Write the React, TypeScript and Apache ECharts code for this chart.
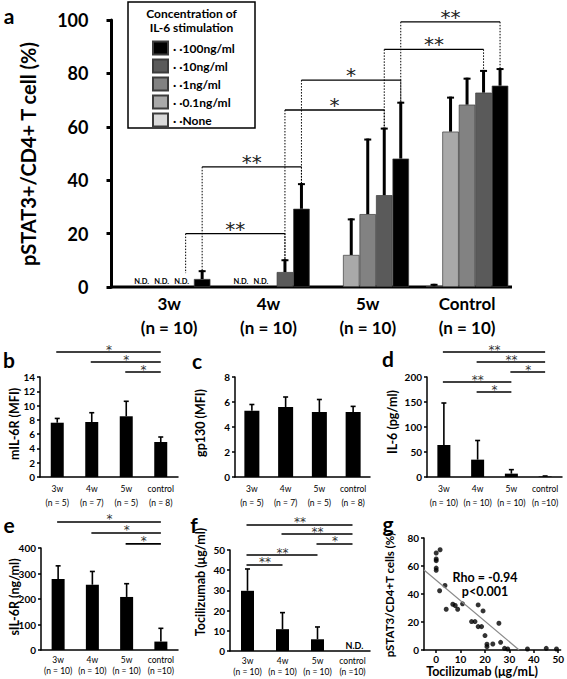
import React, { useEffect, useRef } from "react";
import * as echarts from "echarts";

const FONT = "Lato, 'Open Sans', sans-serif";
const STAR_FONT = "'DejaVu Sans', sans-serif";

// ---------- Panel a ----------
const A_GROUPS = ["3w", "4w", "5w", "Control"];
const A_GROUP_N = ["(n = 10)", "(n = 10)", "(n = 10)", "(n = 10)"];
const CONC_NAMES = ["· ·None", "· ·0.1ng/ml", "· ·1ng/ml", "· ·10ng/ml", "· ·100ng/ml"];
const CONC_COLORS = ["#dadada", "#a9a9a9", "#828282", "#5a5a5a", "#000000"];
const A_NONE = [null, null, null, 0.3];
const A_01 = [null, null, 12, 58.2];
const A_1 = [null, null, 27.3, 68.3];
const A_10 = [null, 5.6, 34.4, 72.8];
const A_100 = [3, 29.3, 48.1, 75.4];
const A_NONE_ERR = [null, null, null, 1.2];
const A_01_ERR = [null, null, 25.7, 71.3];
const A_1_ERR = [null, null, 55.6, 78.4];
const A_10_ERR = [null, 10.4, 59.7, 81.3];
const A_100_ERR = [6.3, 38.9, 69.4, 82];
// [group, concentration] pairs reported as N.D.
const A_ND = [[0, 1], [0, 2], [0, 3], [1, 1], [1, 2]];
// [group1, conc1, group2, conc2, level, drop1, drop2, label]
const A_BRACKETS: [number, number, number, number, number, number, number, string][] = [
  [0, 3, 1, 3, 20, 5.2, 10.4, "**"],
  [0, 4, 1, 4, 45, 6.3, 38.9, "**"],
  [1, 3, 2, 3, 66.3, 10.4, 59.7, "*"],
  [1, 4, 2, 4, 77.5, 38.9, 69.4, "*"],
  [2, 3, 3, 3, 89, 59.7, 81.3, "**"],
  [2, 4, 3, 4, 99.3, 69.4, 82, "**"],
];

// ---------- Panels b-f ----------
const SMALL_CATS = ["3w", "4w", "5w", "control"];
const BC_N = ["(n = 5)", "(n = 7)", "(n = 5)", "(n = 8)"];
const DEF_N = ["(n = 10)", "(n = 10)", "(n = 10)", "(n =10)"];
const B_VAL = [7.6, 7.7, 8.5, 4.9];
const B_ERR = [8.2, 9.0, 10.6, 5.6];
const C_VAL = [5.3, 5.6, 5.2, 5.2];
const C_ERR = [5.8, 6.4, 6.2, 5.65];
const D_VAL = [64, 34.7, 6.7, 1];
const D_ERR = [148, 73, 14.7, 2];
const E_VAL = [278, 256, 208, 33];
const E_ERR = [330, 308, 260, 85];
const F_VAL = [29.8, 10.8, 5.8, null];
const F_ERR = [40.6, 19.0, 11.9, null];
const F_ND = [3];
// [cat1, cat2, level, label]
const B_BRACKETS: [number, number, number, string][] = [[0, 3, 17.5, "*"], [1, 3, 16.1, "*"], [2, 3, 14.7, "*"]];
const D_BRACKETS: [number, number, number, string][] = [
  [0, 3, 250, "**"], [1, 3, 230, "**"], [2, 3, 210, "*"], [0, 2, 190, "**"], [1, 2, 170, "*"],
];
const E_BRACKETS: [number, number, number, string][] = [[0, 3, 502, "*"], [1, 3, 459, "*"], [2, 3, 416, "*"]];
const F_BRACKETS: [number, number, number, string][] = [
  [0, 3, 62.4, "**"], [1, 3, 57.9, "**"], [2, 3, 53, "*"], [0, 2, 47.5, "**"], [0, 1, 42.6, "**"],
];

// ---------- Panel g ----------
const G_TOCI = [0, 0, 0, 0, 0, 1.6, 1.4, 3.6, 4.1, 6.8, 7.8, 8.8, 10.8, 14.5, 15.9, 17.2, 17.2, 18.6, 19.2, 20, 20.8, 20.8, 23.2, 25.7, 26.4, 28, 29.3, 37.4, 45.1, 49.3];
const G_PSTAT = [69.3, 65, 63.8, 58.5, 56.9, 71.6, 42.3, 46.1, 29.1, 32.7, 31.8, 29.1, 33, 20.3, 20.3, 32.2, 16.7, 16.7, 27.9, 10.3, 4.1, 2.4, 4.3, 19.1, 5.5, 1.2, 0.7, 0.7, 1.2, 0.7];
const G_FIT_X = [-5, 34];
const G_FIT_Y = [57.2, 0];
const G_XTICKS = [0, 10, 20, 30, 40, 50];

const SLOT = 16.5;

const GRIDS = [
  { left: 119.5, top: 20, width: 397.2, height: 267 }, // a
  { left: 40, top: 377, width: 138, height: 100 }, // b
  { left: 235, top: 377, width: 135, height: 100 }, // c
  { left: 427, top: 377, width: 135, height: 100 }, // d
  { left: 41, top: 548, width: 137, height: 102 }, // e
  { left: 230, top: 550, width: 140, height: 101 }, // f
  { left: 424, top: 538, width: 139, height: 112 }, // g
];

const nz = (v: number | null) => (v === null ? "-" : v);

function smallErr(lw: number, cap: number) {
  return (params: any, api: any) => {
    const c = api.value(0), v = api.value(1), e = api.value(2);
    const p0 = api.coord([c, v]);
    const p1 = api.coord([c, e]);
    return {
      type: "group",
      children: [
        { type: "line", shape: { x1: p0[0], y1: p0[1], x2: p0[0], y2: p1[1] }, style: { stroke: "#000", lineWidth: lw } },
        { type: "line", shape: { x1: p0[0] - cap, y1: p1[1], x2: p0[0] + cap, y2: p1[1] }, style: { stroke: "#000", lineWidth: lw } },
      ],
    };
  };
}

function buildOption() {
  const xAxis: any[] = [];
  const yAxis: any[] = [];
  const series: any[] = [];

  // panel a axes
  xAxis.push({
    gridIndex: 0, type: "category", data: A_GROUPS,
    axisLine: { show: false }, axisTick: { show: false },
    axisLabel: {
      interval: 0, margin: 4, color: "#000", fontFamily: FONT, fontWeight: "bold", fontSize: 17, lineHeight: 24,
      formatter: (v: string, i: number) => `${v}\n${A_GROUP_N[i]}`,
    },
  });
  yAxis.push({
    gridIndex: 0, type: "value", min: 0, max: 100, interval: 20, offset: 8,
    axisLine: { show: true, onZero: false, lineStyle: { color: "#000", width: 3 } },
    axisTick: { show: true, length: 5, lineStyle: { color: "#000", width: 3 } },
    axisLabel: { margin: 23, color: "#000", fontFamily: FONT, fontWeight: "bold", fontSize: 18 },
    splitLine: { show: false },
  });
  const aVals = [A_NONE, A_01, A_1, A_10, A_100];
  const aErrs = [A_NONE_ERR, A_01_ERR, A_1_ERR, A_10_ERR, A_100_ERR];
  aVals.forEach((vals, k) => {
    series.push({
      type: "bar", name: CONC_NAMES[k], xAxisIndex: 0, yAxisIndex: 0,
      data: vals.map(nz), barWidth: SLOT, barGap: "0%",
      itemStyle: { color: CONC_COLORS[k], borderColor: "#3c3c3c", borderWidth: 0.7 },
    });
  });
  const aErrData: number[][] = [];
  aErrs.forEach((errs, k) => errs.forEach((e, g) => {
    if (e !== null) aErrData.push([g, k, e, (aVals[k][g] as number) ?? 0]);
  }));
  series.push({
    type: "custom", xAxisIndex: 0, yAxisIndex: 0, data: aErrData, encode: { x: 0, y: 2 }, z: 3, silent: true,
    renderItem: (params: any, api: any) => {
      const g = api.value(0), k = api.value(1), e = api.value(2), v = api.value(3);
      const p0 = api.coord([g, v]);
      const p1 = api.coord([g, e]);
      const x = p0[0] + (k - 2) * SLOT;
      return {
        type: "group",
        children: [
          { type: "line", shape: { x1: x, y1: p0[1], x2: x, y2: p1[1] }, style: { stroke: "#000", lineWidth: 3 } },
          { type: "line", shape: { x1: x - 3.5, y1: p1[1] + 1, x2: x + 3.5, y2: p1[1] + 1 }, style: { stroke: "#000", lineWidth: 2 } },
        ],
      };
    },
  });
  series.push({
    type: "custom", xAxisIndex: 0, yAxisIndex: 0, data: A_ND, encode: { x: 0 }, z: 3, silent: true,
    renderItem: (params: any, api: any) => {
      const g = api.value(0), k = api.value(1);
      const p = api.coord([g, 0]);
      return {
        type: "text",
        style: {
          x: p[0] + (k - 2) * SLOT - 4 + (k - 3) * 3.5, y: p[1] - 6, text: "N.D.", fill: "#000",
          font: `bold 7.5px ${FONT}`, align: "center", verticalAlign: "middle",
        },
      };
    },
  });

  // small bar panels
  const smallPanels = [
    { gi: 1, n: BC_N, vals: B_VAL, errs: B_ERR, max: 14, step: 2, bw: 13, lh: 14, mg: 5 },
    { gi: 2, n: BC_N, vals: C_VAL, errs: C_ERR, max: 8, step: 2, bw: 15, lh: 14, mg: 5 },
    { gi: 3, n: DEF_N, vals: D_VAL, errs: D_ERR, max: 200, step: 50, bw: 13, lh: 14, mg: 5 },
    { gi: 4, n: DEF_N, vals: E_VAL, errs: E_ERR, max: 400, step: 100, bw: 13, lh: 11, mg: 4 },
    { gi: 5, n: DEF_N, vals: F_VAL, errs: F_ERR, max: 50, step: 10, bw: 13, lh: 11, mg: 4 },
  ];
  smallPanels.forEach((p) => {
    const ax = xAxis.length;
    xAxis.push({
      gridIndex: p.gi, type: "category", data: SMALL_CATS,
      axisLine: { show: true, onZero: false, lineStyle: { color: "#000", width: 1.5 } }, axisTick: { show: false },
      axisLabel: {
        interval: 0, margin: p.mg, color: "#000", fontFamily: FONT, fontSize: 8.5, lineHeight: p.lh,
        formatter: (v: string, i: number) => `${v}\n${p.n[i]}`,
      },
    });
    yAxis.push({
      gridIndex: p.gi, type: "value", min: 0, max: p.max, interval: p.step,
      axisLine: { show: true, onZero: false, lineStyle: { color: "#000", width: 1.5 } },
      axisTick: { show: true, length: 3, lineStyle: { color: "#000", width: 1.5 } },
      axisLabel: { margin: 5, color: "#000", fontFamily: FONT, fontWeight: "bold", fontSize: 10 },
      splitLine: { show: false },
    });
    series.push({
      type: "bar", xAxisIndex: ax, yAxisIndex: ax, data: p.vals.map(nz), barWidth: p.bw,
      itemStyle: { color: "#000" },
    });
    const ed: number[][] = [];
    p.errs.forEach((e, i) => { if (e !== null) ed.push([i, p.vals[i] as number, e]); });
    series.push({
      type: "custom", xAxisIndex: ax, yAxisIndex: ax, data: ed, encode: { x: 0, y: 2 }, z: 3, silent: true,
      renderItem: smallErr(1.6, 2.5),
    });
  });
  // f N.D.
  series.push({
    type: "custom", xAxisIndex: 5, yAxisIndex: 5, data: F_ND.map((c) => [c, 0]), encode: { x: 0, y: 1 }, silent: true,
    renderItem: (params: any, api: any) => {
      const p = api.coord([api.value(0), 0]);
      return {
        type: "text",
        style: { x: p[0] + 2, y: p[1] - 6, text: "N.D.", fill: "#000", font: `bold 9px ${FONT}`, align: "center", verticalAlign: "middle" },
      };
    },
  });

  // panel g
  xAxis.push({
    gridIndex: 6, type: "value", min: -5, max: 51,
    axisLine: { show: true, onZero: false, lineStyle: { color: "#000", width: 1.5 } },
    axisTick: { show: true, length: 3, customValues: G_XTICKS, lineStyle: { color: "#000", width: 1.5 } },
    axisLabel: { customValues: G_XTICKS, margin: 4, color: "#000", fontFamily: FONT, fontWeight: "bold", fontSize: 10 },
    splitLine: { show: false },
  });
  yAxis.push({
    gridIndex: 6, type: "value", min: 0, max: 80, interval: 20,
    axisLine: { show: true, onZero: false, lineStyle: { color: "#000", width: 1.5 } },
    axisTick: { show: true, length: 3, lineStyle: { color: "#000", width: 1.5 } },
    axisLabel: { margin: 5, color: "#000", fontFamily: FONT, fontWeight: "bold", fontSize: 10 },
    splitLine: { show: false },
  });
  series.push({
    type: "line", xAxisIndex: 6, yAxisIndex: 6, data: G_FIT_X.map((x, i) => [x, G_FIT_Y[i]]),
    symbol: "none", lineStyle: { color: "#8a8a8a", width: 1.2 }, silent: true,
  });
  series.push({
    type: "scatter", xAxisIndex: 6, yAxisIndex: 6, data: G_TOCI.map((x, i) => [x, G_PSTAT[i]]),
    symbolSize: 5, itemStyle: { color: "#000" }, silent: true,
  });

  return {
    animation: false,
    backgroundColor: "#fff",
    grid: GRIDS,
    xAxis, yAxis, series,
    legend: {
      data: [...CONC_NAMES].reverse(), orient: "vertical", left: 147, top: 35,
      itemWidth: 15, itemHeight: 13, itemGap: 2, icon: "rect", selectedMode: false,
      textStyle: { color: "#000", fontFamily: FONT, fontWeight: "bold", fontSize: 12, lineHeight: 16 },
      z: 10,
    },
  };
}

function buildGraphics(chart: any) {
  const els: any[] = [];
  const px = (gi: number, x: number, y: number) => chart.convertToPixel({ gridIndex: gi }, [x, y]);
  const text = (x: number, y: number, t: string, font: string, extra: any = {}) =>
    els.push({ type: "text", x, y, silent: true, ...extra, style: { text: t, font, fill: "#000", align: "center", verticalAlign: "middle", ...(extra.style || {}) } });
  const vtext = (x: number, y: number, t: string, font: string) =>
    els.push({ type: "text", x, y, rotation: Math.PI / 2, silent: true, style: { text: t, font, fill: "#000", align: "center", verticalAlign: "middle" } });
  const line = (x1: number, y1: number, x2: number, y2: number, lw: number, dash?: number[]) =>
    els.push({ type: "line", silent: true, shape: { x1, y1, x2, y2 }, style: { stroke: "#000", lineWidth: lw, lineDash: dash } });

  // panel a baseline
  const base = px(0, 0, 0);
  line(111.5 - 1.5, base[1], 512, base[1], 3);

  // legend box
  els.push({ type: "rect", silent: true, z: 1, shape: { x: 128, y: 2, width: 127, height: 126 }, style: { fill: "#fff", stroke: "#000", lineWidth: 1.5 } });
  text(191.5, 13, "Concentration of", `bold 12px ${FONT}`, { z: 2 });
  text(191.5, 27, "IL-6 stimulation", `bold 12px ${FONT}`, { z: 2 });

  // panel a brackets
  A_BRACKETS.forEach(([g1, k1, g2, k2, lvl, d1, d2, lab]) => {
    const p1 = px(0, g1, lvl);
    const p2 = px(0, g2, lvl);
    const x1 = p1[0] + (k1 - 2) * SLOT;
    const x2 = p2[0] + (k2 - 2) * SLOT;
    const y = p1[1];
    const yd1 = px(0, g1, d1)[1];
    const yd2 = px(0, g2, d2)[1];
    line(x1, y, x2, y, 1.3);
    line(x1, y, x1, yd1, 1, [1.5, 1.5]);
    line(x2, y, x2, yd2, 1, [1.5, 1.5]);
    text((x1 + x2) / 2, y - 5, lab, `20px ${STAR_FONT}`, { style: { fill: "#222" } });
  });

  // small brackets
  const small = (gi: number, list: [number, number, number, string][]) => {
    list.forEach(([c1, c2, lvl, lab]) => {
      const p1 = px(gi, c1, lvl);
      const p2 = px(gi, c2, lvl);
      line(p1[0] - 1, p1[1], p2[0], p1[1], 1.6);
      text((p1[0] + p2[0]) / 2, p1[1] - 2.5, lab, `12px ${STAR_FONT}`, { style: { fill: "#333" } });
    });
  };
  small(1, B_BRACKETS);
  small(3, D_BRACKETS);
  small(4, E_BRACKETS);
  small(5, F_BRACKETS);

  // panel letters
  const L = `bold 21px ${FONT}`;
  const letters: [string, number, number][] = [["a", 9, 15], ["b", 9, 359], ["c", 197, 360], ["d", 388, 358], ["e", 9, 524], ["f", 194, 524], ["g", 388, 523]];
  letters.forEach(([t, x, y]) => text(x, y, t, L));

  // axis names
  vtext(28, 154, "pSTAT3+/CD4+ T cell (%)", `bold 20px ${FONT}`);
  const S = `bold 12.5px ${FONT}`;
  vtext(14, 424, "mIL-6R (MFI)", S);
  vtext(200, 423, "gp130 (MFI)", S);
  vtext(392, 422, "IL-6 (pg/ml)", S);
  vtext(14, 597, "sIL-6R (ng/ml)", S);
  vtext(200, 582, "Tocilizumab (μg/ml)", S);
  vtext(389, 595, "pSTAT3/CD4+T cells (%)", `bold 11.5px ${FONT}`);

  // panel g annotations
  text(485, 577, "Rho = -0.94", `bold 12.5px ${FONT}`);
  text(485, 591, "p<0.001", `bold 12.5px ${FONT}`);
  text(482, 671, "Tocilizumab (μg/mL)", `bold 12.5px ${FONT}`);

  return els;
}

export default function App() {
  const ref = useRef<HTMLDivElement>(null);
  useEffect(() => {
    const chart = echarts.init(ref.current!, null, { renderer: "svg" });
    chart.setOption(buildOption());
    chart.setOption({ graphic: { elements: buildGraphics(chart) } });
    return () => chart.dispose();
  }, []);
  return (
    <div
      ref={ref}
      style={{ position: "absolute", left: 0, top: 0, width: 567, height: 679, background: "#fff" }}
    />
  );
}
